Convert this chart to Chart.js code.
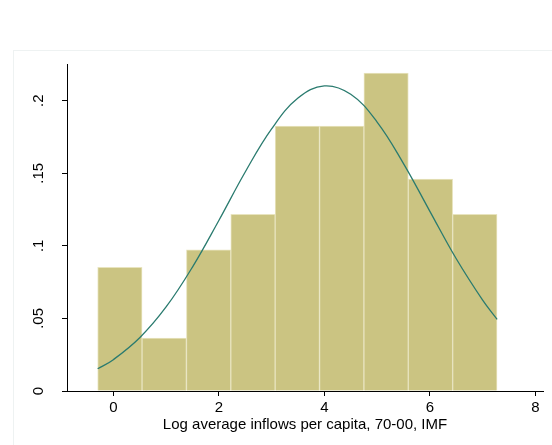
<!DOCTYPE html>
<html>
<head>
<meta charset="utf-8">
<script src="https://cdn.jsdelivr.net/npm/chart.js@4"></script>
<style>
  html, body { margin: 0; padding: 0; background: #fff; }
  #wrap { position: relative; width: 552px; height: 445px; overflow: hidden; }
  #frame { position: absolute; left: 13px; top: 50px; width: 600px; height: 500px;
           border-left: 1px solid #eef2f2; border-top: 1px solid #eef2f2; }
  canvas { position: absolute; left: 0; top: 0; }
</style>
</head>
<body>
<div id="wrap">
  <div id="frame"></div>
  <canvas id="hist" width="552" height="445"></canvas>
</div>
<script>
// histogram bins (centres) and densities
const binCenters = [0.124, 0.965, 1.806, 2.647, 3.488, 4.329, 5.170, 6.011, 6.852];
const densities = [0.0852, 0.0365, 0.0973, 0.1217, 0.1825, 0.1825, 0.2190, 0.1460, 0.1217];

// normal density curve
const curveX = [-0.297, 0, 0.5, 1, 1.5, 2, 2.5, 3, 3.5, 4, 4.5, 5, 5.5, 6, 6.5, 7, 7.274];
const curveY = [0.0153, 0.0216, 0.0367, 0.0579, 0.0854, 0.1175, 0.1509, 0.1806, 0.2018,
                0.2102, 0.2044, 0.1853, 0.1567, 0.1238, 0.0911, 0.0626, 0.0494];

const xTicks = [0, 2, 4, 6, 8];
const yTicks = [0, 0.05, 0.1, 0.15, 0.2];
const yTickLabels = ["0", ".05", ".1", ".15", ".2"];
const xTitle = "Log average inflows per capita, 70-00, IMF";

const font = { family: "'Liberation Sans', Arial, sans-serif", size: 15 };

new Chart(document.getElementById("hist"), {
    type: "bar",
    data: {
        datasets: [{
            type: "line",
            data: curveX.map((x, i) => ({ x: x, y: curveY[i] })),
            borderColor: "#2a7b6f",
            borderWidth: 1.3,
            pointRadius: 0,
            tension: 0.4,
            fill: false,
            order: 0
        }, {
            type: "bar",
            data: binCenters.map((x, i) => ({ x: x, y: densities[i] })),
            backgroundColor: "#cbc482",
            borderColor: "#e8e4bf",
            borderWidth: 1,
            borderSkipped: "bottom",
            barPercentage: 1,
            categoryPercentage: 1,
            order: 1
        }]
    },
    options: {
        responsive: false,
        animation: false,
        events: [],
        layout: { padding: { top: 64, right: 9, bottom: 0, left: 0 } },
        plugins: { legend: { display: false }, tooltip: { enabled: false } },
        scales: {
            x: {
                type: "linear",
                min: -0.878,
                max: 8.144,
                offset: false,
                afterBuildTicks: (s) => { s.ticks = xTicks.map(v => ({ value: v })); },
                afterFit: (s) => { s.height = 54; },
                grid: { offset: false, drawOnChartArea: false, drawTicks: true, tickLength: 5, color: "#000" },
                border: { display: true, color: "#000", width: 1 },
                ticks: { color: "#000", font: font, padding: 3, maxRotation: 0 },
                title: {
                    display: true, text: xTitle, color: "#000", font: font,
                    padding: { top: 0, bottom: 11 }
                }
            },
            y: {
                type: "linear",
                min: 0,
                max: 0.2253,
                afterBuildTicks: (s) => { s.ticks = yTicks.map(v => ({ value: v })); },
                afterFit: (s) => { s.width = 67; },
                grid: { drawOnChartArea: false, drawTicks: true, tickLength: 5, color: "#000" },
                border: { display: true, color: "#000", width: 1 },
                ticks: {
                    color: "#000", font: font, padding: 13, crossAlign: "center",
                    minRotation: 90, maxRotation: 90,
                    callback: (v) => yTickLabels[yTicks.indexOf(v)]
                }
            }
        }
    }
});
</script>
</body>
</html>
